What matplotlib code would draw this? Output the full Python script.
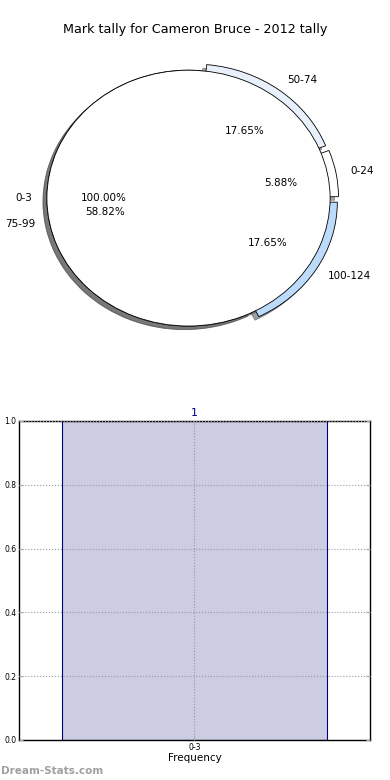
import numpy as np
import matplotlib
matplotlib.use("Agg")
import matplotlib.pyplot as plt

# === Datos ===
titulo = "Mark tally for Cameron Bruce - 2012 tally"
rangos = ["0-24", "50-74", "75-99", "100-124"]
valores = [1, 3, 10, 3]
colores = ["#ffffff", "#e8f0fc", "#ffffff", "#bcdafa"]
rango_total = ["0-3"]
valor_total = [1]
barras_cat = ["0-3"]
barras_val = [1]

fig = plt.figure(figsize=(3.9, 7.8), dpi=100)

# === Torta ===
ax1 = fig.add_axes([0.0295, 0.541, 0.9077, 0.410])
ax1.pie(valores, labels=rangos, colors=colores, autopct="%1.2f%%",
        explode=[0.06, 0.06, 0, 0.06], shadow=True,
        wedgeprops=dict(edgecolor="black", linewidth=0.6),
        textprops=dict(fontsize=7.5))
ax1.pie(valor_total, labels=rango_total, colors=["white"], autopct="%1.2f%%",
        shadow=True, wedgeprops=dict(edgecolor="black", linewidth=0.6),
        textprops=dict(fontsize=7.5))
ax1.set_aspect("auto")
ax1.set_xlim(-1.25, 1.25)
ax1.set_ylim(-1.25, 1.25)
fig.text(0.5, 1 - 30 / 780, titulo, ha="center", va="center", fontsize=9.2)

# === Barras ===
ax2 = fig.add_axes([0.0487, 0.0513, 0.9, 0.409])
x = np.arange(len(barras_cat))
ax2.bar(x, barras_val, width=0.8, color="#ccccE2", edgecolor="#000080",
        linewidth=0.8, zorder=2)
for xi, v in zip(x, barras_val):
    ax2.text(xi, v + 0.01, str(v), ha="center", va="bottom",
             color="#000080", fontsize=8)
ax2.set_xlim(-0.53, 0.53)
ax2.set_ylim(0, 1.0)
ax2.set_xticks(x)
ax2.set_xticklabels(barras_cat)
ax2.set_yticks(np.arange(0, 1.01, 0.2))
ax2.tick_params(labelsize=5.5, direction="in", length=3, color="#aaaaaa",
                top=True, right=True, pad=2)
ax2.grid(True, linestyle=":", color="#999999", linewidth=0.8, zorder=3)
ax2.set_axisbelow(False)
ax2.set_xlabel("Frequency", fontsize=7.5, labelpad=1)
for s in ax2.spines.values():
    s.set_linewidth(1.0)

fig.text(0.003, 1 - 771 / 780, "Dream-Stats.com", ha="left", va="center",
         fontsize=7.5, fontweight="bold", color="#a0a0a0")

fig.savefig("out.png", dpi=100)
